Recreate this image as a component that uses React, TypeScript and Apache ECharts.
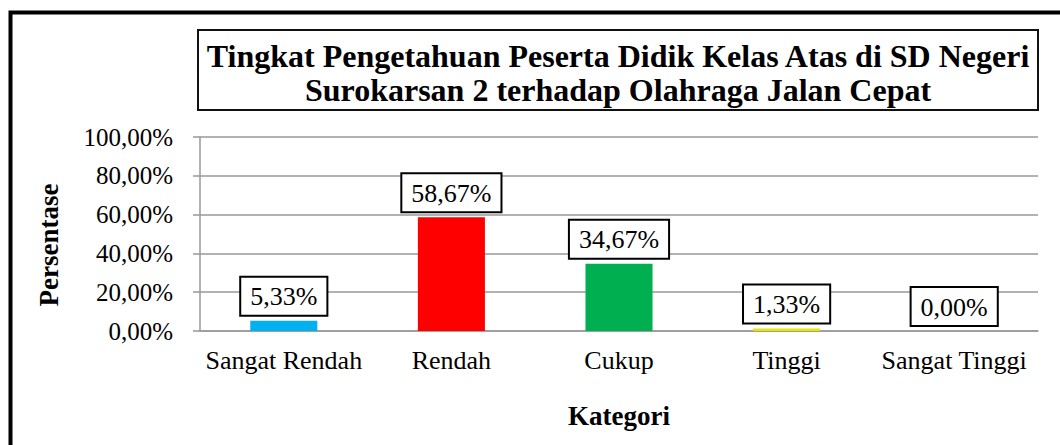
import React, { useEffect, useRef } from "react";
import * as echarts from "echarts";

const categories = ["Sangat Rendah", "Rendah", "Cukup", "Tinggi", "Sangat Tinggi"];
const values = [5.33, 58.67, 34.67, 1.33, 0.0];
const barColors = ["#00B0F0", "#FF0000", "#00B050", "#E6E600", "#7030A0"];
const titleLines = [
  "Tingkat Pengetahuan Peserta Didik Kelas Atas di SD Negeri",
  "Surokarsan 2 terhadap Olahraga Jalan Cepat",
];
const yAxisName = "Persentase";
const xAxisName = "Kategori";

const FONT = "'Liberation Serif', 'Times New Roman', serif";

const fmt = (v: number) => v.toFixed(2).replace(".", ",") + "%";

export default function App() {
  const ref = useRef<HTMLDivElement>(null);
  useEffect(() => {
    if (!ref.current) return;
    const chart = echarts.init(ref.current, undefined, { renderer: "svg" });
    chart.setOption({
      animation: false,
      backgroundColor: "#ffffff",
      title: {
        text: titleLines.join("\n"),
        left: 618,
        top: 39,
        textAlign: "center",
        padding: 0,
        textStyle: {
          fontFamily: FONT,
          fontWeight: "bold",
          fontSize: 32,
          lineHeight: 34,
          color: "#000",
        },
      },
      graphic: [
        {
          type: "rect",
          shape: { x: 10.5, y: 12.5, width: 1200, height: 600 },
          style: { fill: "none", stroke: "#000", lineWidth: 4 },
          z: 100,
        },
        {
          type: "rect",
          shape: { x: 198, y: 30, width: 840, height: 80 },
          style: { fill: "none", stroke: "#111", lineWidth: 2 },
          z: 100,
        },
      ],
      grid: { left: 200, right: 22, top: 137, bottom: 114, containLabel: false },
      xAxis: {
        type: "category",
        data: categories,
        name: xAxisName,
        nameLocation: "middle",
        nameGap: 71,
        nameTextStyle: { fontFamily: FONT, fontWeight: "bold", fontSize: 27, color: "#000" },
        axisLine: { show: true, lineStyle: { color: "#999", width: 1.5 } },
        axisTick: { show: false },
        axisLabel: { fontFamily: FONT, fontSize: 26, color: "#000", margin: 16, interval: 0 },
      },
      yAxis: {
        type: "value",
        min: 0,
        max: 100,
        interval: 20,
        name: yAxisName,
        nameLocation: "middle",
        nameRotate: 90,
        nameGap: 138,
        nameTextStyle: {
          fontFamily: FONT,
          fontWeight: "bold",
          fontSize: 27,
          color: "#000",
          padding: [0, 22, 0, 0],
        },
        axisLine: { show: true, lineStyle: { color: "#999", width: 1.5 } },
        axisTick: { show: true, length: 7, lineStyle: { color: "#999", width: 1.5 } },
        splitLine: { show: true, lineStyle: { color: "#999", width: 1.5 } },
        axisLabel: {
          fontFamily: FONT,
          fontSize: 25,
          color: "#000",
          margin: 27,
          formatter: (v: number) => fmt(v),
        },
      },
      series: [
        {
          type: "bar",
          data: values.map((v, i) => ({ value: v, itemStyle: { color: barColors[i] } })),
          barWidth: "40%",
          label: {
            show: true,
            position: "top",
            distance: 6,
            formatter: (p: any) => fmt(p.value),
            fontFamily: FONT,
            fontSize: 26,
            lineHeight: 26,
            color: "#000",
            backgroundColor: "#fff",
            borderColor: "#000",
            borderWidth: 2,
            padding: [6, 9, 5, 9],
          },
        },
      ],
    });
    return () => chart.dispose();
  }, []);
  return (
    <div
      ref={ref}
      style={{ position: "fixed", left: 0, top: 0, width: 1060, height: 445 }}
    />
  );
}
